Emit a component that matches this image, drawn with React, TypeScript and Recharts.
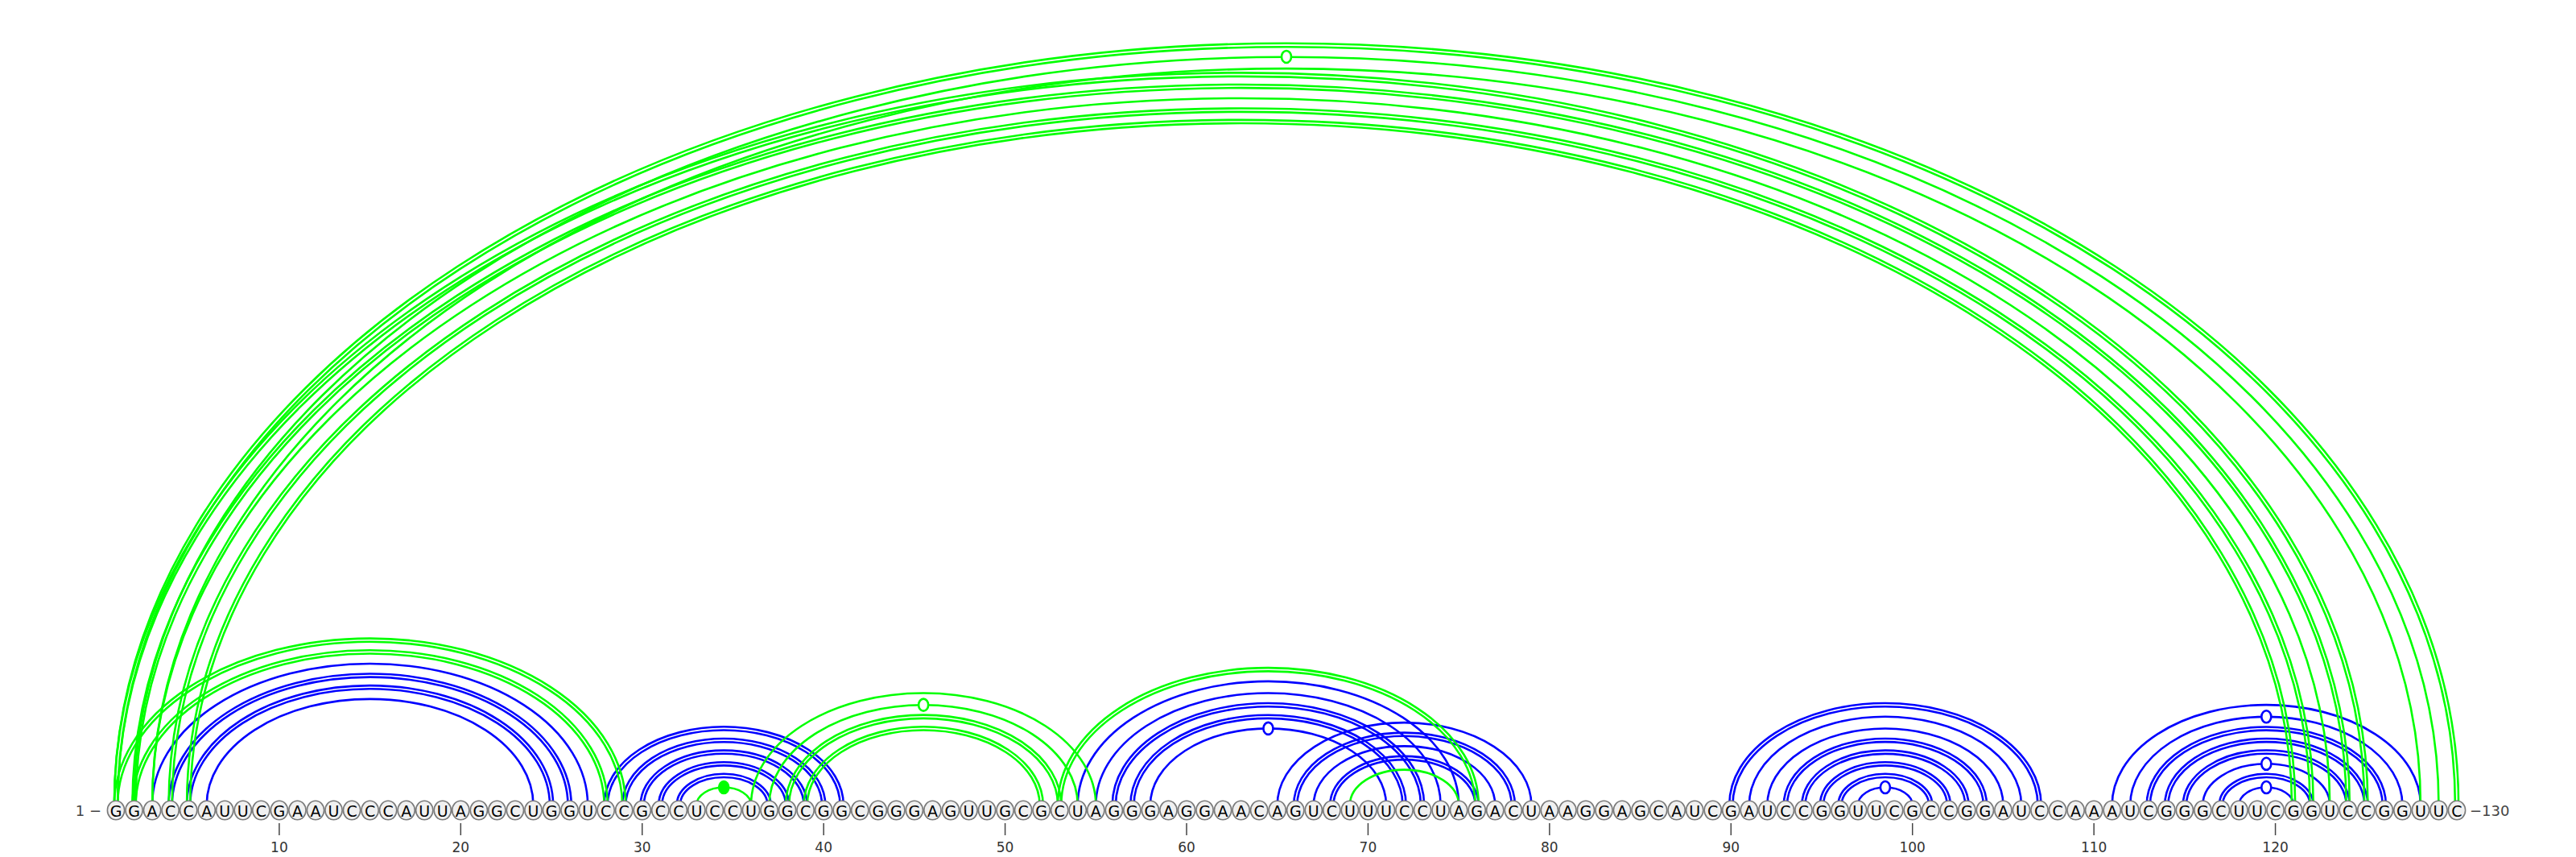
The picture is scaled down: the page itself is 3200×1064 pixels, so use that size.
import React from "react";
import { ReferenceLine, Scatter, ScatterChart, XAxis, YAxis } from "recharts";

const SEQUENCE =
  "GGACCAUUCGAAUCCCAUUAGGCUGGUCCGCCUCCUGGCGGCGGGAGUUGCGCUAGGGAGGAACAGUCUUUCCUAGACUAAGGAGCAUCGAUCCGGUUCGCCGGAUCCAAAUCGGGCUUCGGUCCGGUUC";

type Pair = { i: number; j: number; lines: number; mark?: "open" | "filled" };

// pairs drawn in green
const greenPairs: Pair[] = [
  { i: 1, j: 29, lines: 2 },
  { i: 2, j: 28, lines: 2 },
  { i: 1, j: 130, lines: 2 },
  { i: 2, j: 129, lines: 1, mark: "open" },
  { i: 3, j: 128, lines: 1 },
  { i: 1, j: 125, lines: 2 },
  { i: 2, j: 124, lines: 2 },
  { i: 3, j: 123, lines: 1 },
  { i: 4, j: 122, lines: 2 },
  { i: 5, j: 121, lines: 2 },
  { i: 33, j: 36, lines: 1, mark: "filled" },
  { i: 36, j: 55, lines: 1 },
  { i: 37, j: 54, lines: 1, mark: "open" },
  { i: 38, j: 53, lines: 2 },
  { i: 39, j: 52, lines: 2 },
  { i: 53, j: 76, lines: 2 },
  { i: 69, j: 75, lines: 1 },
];

// pairs drawn in blue
const bluePairs: Pair[] = [
  { i: 3, j: 27, lines: 1 },
  { i: 4, j: 26, lines: 2 },
  { i: 5, j: 25, lines: 2 },
  { i: 6, j: 24, lines: 1 },
  { i: 28, j: 41, lines: 2 },
  { i: 29, j: 40, lines: 2 },
  { i: 30, j: 39, lines: 2 },
  { i: 31, j: 38, lines: 2 },
  { i: 32, j: 37, lines: 2 },
  { i: 54, j: 75, lines: 1 },
  { i: 55, j: 74, lines: 1 },
  { i: 56, j: 73, lines: 2 },
  { i: 57, j: 72, lines: 2 },
  { i: 58, j: 71, lines: 1, mark: "open" },
  { i: 65, j: 79, lines: 1 },
  { i: 66, j: 78, lines: 2 },
  { i: 67, j: 77, lines: 1 },
  { i: 68, j: 76, lines: 2 },
  { i: 90, j: 107, lines: 2 },
  { i: 91, j: 106, lines: 1 },
  { i: 92, j: 105, lines: 1 },
  { i: 93, j: 104, lines: 2 },
  { i: 94, j: 103, lines: 2 },
  { i: 95, j: 102, lines: 2 },
  { i: 96, j: 101, lines: 2 },
  { i: 97, j: 100, lines: 1, mark: "open" },
  { i: 111, j: 128, lines: 1 },
  { i: 112, j: 127, lines: 1, mark: "open" },
  { i: 113, j: 126, lines: 2 },
  { i: 114, j: 125, lines: 2 },
  { i: 115, j: 124, lines: 2 },
  { i: 116, j: 123, lines: 1, mark: "open" },
  { i: 117, j: 122, lines: 2 },
  { i: 118, j: 121, lines: 1, mark: "open" },
];

const positionTicks = [10, 20, 30, 40, 50, 60, 70, 80, 90, 100, 110, 120];

const GREEN = "#00ff00";
const BLUE = "#0000ff";
const FONT = "DejaVu Sans, Verdana, sans-serif";
const ARC_RATIO = 0.649;

const nucleotides = SEQUENCE.split("").map((base, k) => ({ pos: k + 1, y: 0, base }));

function arcShape(pair: Pair, color: string) {
  return (props: any) => {
    const { x1, x2, y1 } = props;
    const half = (x2 - x1) / 2;
    const cx = (x1 + x2) / 2;
    const offsets = pair.lines === 2 ? [-2.1, 2.1] : [0];
    return (
      <g>
        {offsets.map((d) => {
          const rx = half + d;
          const ry = half * ARC_RATIO + d;
          return (
            <path
              key={d}
              d={`M${cx - rx},${y1} A${rx},${ry} 0 0 1 ${cx + rx},${y1}`}
              fill="none"
              stroke={color}
              strokeWidth={2.6}
            />
          );
        })}
        {pair.mark && (
          <ellipse
            cx={cx}
            cy={y1 - half * ARC_RATIO}
            rx={6}
            ry={7.5}
            fill={pair.mark === "filled" ? color : "#fff"}
            stroke={color}
            strokeWidth={2.6}
          />
        )}
      </g>
    );
  };
}

function Nucleotide(props: any) {
  const { cx, cy, payload } = props;
  const y = cy + 6.5;
  return (
    <g>
      <ellipse cx={cx} cy={y} rx={10.6} ry={11.8} fill="#f0f0f0" stroke="#7a7a7a" strokeWidth={1.6} />
      <text x={cx} y={y + 1} textAnchor="middle" dominantBaseline="central" fontSize={19} fontFamily={FONT} fill="#000">
        {payload.base}
      </text>
      {payload.pos === 1 && (
        <text x={cx - 18} y={y} textAnchor="end" dominantBaseline="central" fontSize={18} fontFamily={FONT} fill="#444">
          1 −
        </text>
      )}
      {payload.pos === SEQUENCE.length && (
        <text x={cx + 16} y={y} textAnchor="start" dominantBaseline="central" fontSize={18} fontFamily={FONT} fill="#444">
          −{SEQUENCE.length}
        </text>
      )}
    </g>
  );
}

function PositionTick(props: any) {
  const { x, y, payload } = props;
  return (
    <g>
      <line x1={x} x2={x} y1={y + 22.5} y2={y + 37.5} stroke="#444" strokeWidth={1.5} />
      <text x={x} y={y + 52.5} textAnchor="middle" dominantBaseline="central" fontSize={17} fontFamily={FONT} fill="#333">
        {payload.value}
      </text>
    </g>
  );
}

export default function App() {
  return (
    <div style={{ width: 3200, height: 1064, background: "#fff" }}>
      <style>{"body{margin:0}"}</style>
      <ScatterChart width={3200} height={1064} margin={{ top: 20, right: 148, bottom: 0, left: 144 }}>
        <XAxis
          type="number"
          dataKey="pos"
          domain={[1, SEQUENCE.length]}
          ticks={positionTicks}
          interval={0}
          height={64.5}
          axisLine={false}
          tickLine={false}
          tickSize={0}
          tickMargin={0}
          tick={<PositionTick />}
        />
        <YAxis type="number" dataKey="y" domain={[0, 1]} hide />
        {bluePairs.map((p) => (
          <ReferenceLine
            key={`b-${p.i}-${p.j}`}
            segment={[
              { x: p.i, y: 0 },
              { x: p.j, y: 0 },
            ]}
            ifOverflow="visible"
            shape={arcShape(p, BLUE)}
          />
        ))}
        {greenPairs.map((p) => (
          <ReferenceLine
            key={`g-${p.i}-${p.j}`}
            segment={[
              { x: p.i, y: 0 },
              { x: p.j, y: 0 },
            ]}
            ifOverflow="visible"
            shape={arcShape(p, GREEN)}
          />
        ))}
        <Scatter data={nucleotides} isAnimationActive={false} shape={<Nucleotide />} />
      </ScatterChart>
    </div>
  );
}
